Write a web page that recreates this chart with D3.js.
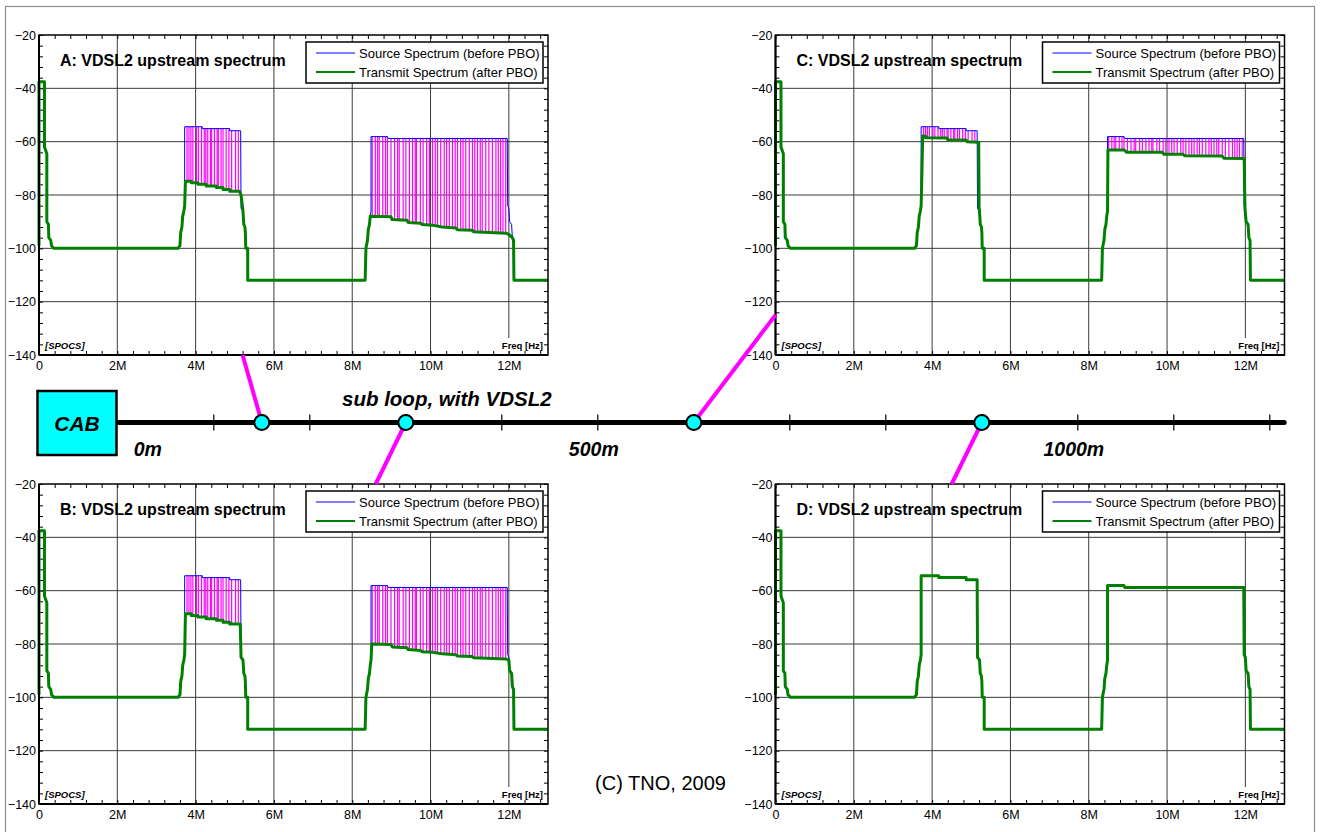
<!DOCTYPE html>
<html><head><meta charset="utf-8">
<script src="https://cdn.jsdelivr.net/npm/d3@7"></script>
<style>
body{margin:0;background:#fff}
svg{display:block}
text{font-family:Arial,"Liberation Sans",Helvetica,sans-serif}
</style>
</head><body>
<svg id="chart" width="1320" height="832"></svg>
<script>
// ---------------- data ----------------
const xTickValues = [0, 2, 4, 6, 8, 10, 12];
const xTickLabels = ["0", "2M", "4M", "6M", "8M", "10M", "12M"];
const yTickValues = [-20, -40, -60, -80, -100, -120, -140];
const legendLabels = ["Source Spectrum (before PBO)", "Transmit Spectrum (after PBO)"];
const panelTitles = ["A: VDSL2 upstream spectrum", "B: VDSL2 upstream spectrum",
                     "C: VDSL2 upstream spectrum", "D: VDSL2 upstream spectrum"];
const nodeNames = ["A", "B", "C", "D"];
const nodeMeters = [150, 300, 600, 900];
const loopTickMeters = [100,200,300,400,500,600,700,800,900,1000,1100,1200];
const loopLabelMeters = [0, 500, 1000];
const loopLabelTexts = ["0m", "500m", "1000m"];

// shared mask edges  [freq MHz, dBm/Hz]
const edgeLeft = [[0,-99],[0,-37.5],[0.14,-37.5],[0.14,-62],[0.2,-64.5],[0.2,-90],[0.24,-91],[0.25,-96],
  [0.3,-97],[0.32,-99],[0.38,-100],[3.55,-100],[3.6,-99],[3.62,-94],[3.65,-92],[3.67,-88],[3.7,-86],[3.72,-84]];
const edgeMid = [[5.21,-86],[5.23,-91],[5.26,-92],[5.27,-94],[5.28,-100],[5.33,-100],[5.33,-112],
  [8.33,-112],[8.35,-100],[8.39,-97],[8.41,-93],[8.44,-91]];
const edgeRight = [[12.09,-96],[12.12,-97],[12.13,-112],[13,-112]];

// source spectrum bands (before PBO)
const sourceBand1 = [[3.72,-54.4],[4.17,-54.4],[4.17,-55.1],[4.87,-55.1],[4.87,-55.9],[5.15,-55.9],[5.16,-85]];
const sourceBand2 = [[8.46,-88],[8.48,-86],[8.48,-58.1],[8.9,-58.1],[8.92,-58.8],[11.96,-58.8],
  [11.97,-84],[12.0,-85],[12.02,-90],[12.07,-91]];

// transmit spectrum bands (after PBO) per panel
const transmitBand1A = [[3.74,-74.8],[3.89,-74.8],[3.89,-75.4],[4.06,-75.4],[4.06,-76],[4.27,-76],[4.27,-76.6],
  [4.53,-76.6],[4.53,-77.2],[4.7,-77.2],[4.7,-77.9],[4.87,-77.9],[4.87,-78.6],[5.12,-78.6],[5.16,-80]];
const transmitBand2A = [[8.46,-88],[8.99,-88.2],[9.02,-89.2],[9.4,-89.5],[9.43,-90.3],[9.75,-90.6],[9.78,-91.1],
  [10.05,-91.3],[10.3,-92],[10.65,-92.4],[10.68,-93],[11.07,-93.2],[11.1,-93.8],[11.92,-94.3],[12.0,-94.8]];
const transmitBand1B = [[3.74,-68.7],[3.89,-68.7],[3.89,-69.3],[4.06,-69.3],[4.06,-69.9],[4.27,-69.9],[4.27,-70.5],
  [4.53,-70.5],[4.53,-71.1],[4.7,-71.1],[4.7,-71.8],[4.87,-71.8],[4.87,-72.5],[5.14,-72.5],[5.16,-85]];
const transmitBand2B = [[8.46,-88],[8.48,-86],[8.5,-80],[8.99,-80.2],[9.02,-81.1],[9.4,-81.4],[9.43,-82.1],
  [9.75,-82.4],[9.78,-82.9],[10.05,-83.1],[10.3,-83.7],[10.65,-84],[10.68,-84.5],[11.07,-84.7],[11.1,-85.2],
  [11.92,-85.6],[12.0,-86],[12.02,-90],[12.07,-91]];
const transmitBand1C = [[3.76,-57.9],[3.83,-57.9],[3.83,-58.5],[4.38,-58.6],[4.4,-59.3],[4.87,-59.4],
  [4.89,-60],[5.19,-60.2],[5.2,-85]];
const transmitBand2C = [[8.46,-88],[8.48,-86],[8.49,-63.1],[8.91,-63.1],[8.97,-64],[9.88,-64],[9.92,-64.7],
  [10.41,-64.7],[10.45,-65.3],[11.41,-65.4],[11.45,-66.2],[11.97,-66.3],[11.99,-85],[12.02,-90],[12.07,-91]];
const transmitBand1D = sourceBand1;
const transmitBand2D = sourceBand2;

// tone frequencies where the PBO difference is drawn
const tonesBand1 = [3.78,3.83,3.88,3.93,4.02,4.07,4.15,4.22,4.26,4.31,4.38,4.41,4.48,4.55,4.58,4.65,4.70,
  4.78,4.85,4.92,5.02,5.09];
const tonesBand2 = [8.51,8.59,8.65,8.69,8.78,8.85,8.90,8.99,9.08,9.16,9.20,9.30,9.37,9.46,9.54,9.61,9.64,
  9.74,9.81,9.90,9.97,10.05,10.12,10.18,10.26,10.35,10.41,10.48,10.56,10.63,10.69,10.77,10.83,10.90,10.99,
  11.07,11.13,11.20,11.27,11.32,11.41,11.49,11.58,11.67,11.73,11.79,11.85,11.92];

// ---------------- drawing ----------------
const svg = d3.select("#chart");
svg.append("rect").attr("x",5.5).attr("y",6.5).attr("width",1309).attr("height",832)
  .attr("fill","none").attr("stroke","#8c8c8c").attr("stroke-width",1.2);

const W = 509, H = 320;
const panelPos = [[39,35],[39,484],[775.5,35],[775.5,484]];
const sourceCurve = [].concat(edgeLeft, sourceBand1, edgeMid, sourceBand2, edgeRight);
const transmitCurves = [
  [].concat(edgeLeft, transmitBand1A, edgeMid, transmitBand2A, edgeRight),
  [].concat(edgeLeft, transmitBand1B, edgeMid, transmitBand2B, edgeRight),
  [].concat(edgeLeft, transmitBand1C, edgeMid, transmitBand2C, edgeRight),
  [].concat(edgeLeft, transmitBand1D, edgeMid, transmitBand2D, edgeRight)
];
const tones = tonesBand1.concat(tonesBand2);

function valueAt(pts, f) {
  for (let i = 0; i < pts.length - 1; i++) {
    const a = pts[i], b = pts[i+1];
    if (b[0] > a[0] && f >= a[0] && f <= b[0]) return a[1] + (b[1]-a[1])*(f-a[0])/(b[0]-a[0]);
  }
  return null;
}

const x = d3.scaleLinear().domain([0,13]).range([0,W]);
const y = d3.scaleLinear().domain([-140,-20]).range([H,0]);
const line = d3.line().x(d=>x(d[0])).y(d=>y(d[1]));
const scales = [];

panelTitles.forEach((title, i) => {
  const [px, py] = panelPos[i];
  const g = svg.append("g").attr("transform",`translate(${px},${py})`);
  scales.push({px, py});

  // grid
  g.append("g").selectAll("line").data(xTickValues.filter(v=>v>0)).join("line")
    .attr("x1",d=>x(d)).attr("x2",d=>x(d)).attr("y1",0).attr("y2",H)
    .attr("stroke","#3a3a3a").attr("stroke-width",1);
  g.append("g").selectAll("line").data(yTickValues.filter(v=>v>-140 && v<-20)).join("line")
    .attr("y1",d=>y(d)).attr("y2",d=>y(d)).attr("x1",0).attr("x2",W)
    .attr("stroke","#3a3a3a").attr("stroke-width",1);

  // minor ticks (inside)
  const minorY = d3.range(-140,-19,4), minorX = d3.range(0,13.01,0.4);
  g.append("g").call(d3.axisLeft(y).tickValues(minorY).tickSize(-4).tickFormat(""))
    .call(s=>s.select(".domain").remove());
  g.append("g").attr("transform",`translate(${W},0)`)
    .call(d3.axisRight(y).tickValues(minorY).tickSize(-4).tickFormat(""))
    .call(s=>s.select(".domain").remove());
  g.append("g").call(d3.axisTop(x).tickValues(minorX).tickSize(-4).tickFormat(""))
    .call(s=>s.select(".domain").remove());
  g.append("g").attr("transform",`translate(0,${H})`)
    .call(d3.axisBottom(x).tickValues(minorX).tickSize(-4).tickFormat(""))
    .call(s=>s.select(".domain").remove());

  // tick labels
  g.append("g").call(d3.axisLeft(y).tickValues(yTickValues).tickSize(0).tickPadding(3))
    .call(s=>s.select(".domain").remove())
    .call(s=>s.selectAll("text").attr("font-size",12.5).attr("fill","#000").attr("font-family","Arial, Liberation Sans, sans-serif"));
  g.append("g").attr("transform",`translate(0,${H})`)
    .call(d3.axisBottom(x).tickValues(xTickValues).tickSize(0).tickPadding(6)
      .tickFormat((d,k)=>xTickLabels[k]))
    .call(s=>s.select(".domain").remove())
    .call(s=>s.selectAll("text").attr("font-size",12.5).attr("fill","#000").attr("font-family","Arial, Liberation Sans, sans-serif"));

  // PBO difference lines
  const tc = transmitCurves[i];
  const diffs = tones.map(f => [f, valueAt(sourceCurve,f), valueAt(tc,f)])
    .filter(d => d[1] !== null && d[2] !== null && d[1] - d[2] > 0.4);
  g.append("g").selectAll("line").data(diffs).join("line")
    .attr("x1",d=>x(d[0])).attr("x2",d=>x(d[0])).attr("y1",d=>y(d[1])).attr("y2",d=>y(d[2]))
    .attr("stroke","#ff00ff").attr("stroke-width",1.2);

  // curves
  g.append("path").attr("d",line(sourceCurve)).attr("fill","none").attr("stroke","#0000ff").attr("stroke-width",1);
  g.append("path").attr("d",line(tc)).attr("fill","none").attr("stroke","#008000").attr("stroke-width",3)
    .attr("stroke-linejoin","round");

  // frame
  g.append("rect").attr("width",W).attr("height",H).attr("fill","none").attr("stroke","#000").attr("stroke-width",1.5);
  g.append("line").attr("x1",0).attr("x2",0).attr("y1",0).attr("y2",H).attr("stroke","#000").attr("stroke-width",2);
  g.append("line").attr("x1",0).attr("x2",W).attr("y1",H).attr("y2",H).attr("stroke","#000").attr("stroke-width",2);

  // title
  g.append("text").attr("x",21).attr("y",31).attr("font-size",16).attr("font-weight","bold").text(title);

  // legend
  const lg = g.append("g").attr("transform","translate(267,7)");
  lg.append("rect").attr("width",237).attr("height",41).attr("fill","#fff").attr("stroke","#000").attr("stroke-width",1.5);
  const legColors = ["#0000ff","#008000"], legWidths = [1.2,2];
  legendLabels.forEach((lab,k)=>{
    const yy = 11 + k*19;
    lg.append("line").attr("x1",10).attr("x2",49).attr("y1",yy).attr("y2",yy)
      .attr("stroke",legColors[k]).attr("stroke-width",legWidths[k]);
    lg.append("text").attr("x",53).attr("y",yy+4.5).attr("font-size",13).text(lab);
  });

  // corner labels
  g.append("text").attr("x",6).attr("y",H-6).attr("font-size",9.5).attr("font-weight","bold")
    .attr("font-style","italic").text("[SPOCS]");
  g.append("rect").attr("x",W-46).attr("y",H-17).attr("width",42).attr("height",13).attr("fill","#fff");
  g.append("text").attr("x",W-5).attr("y",H-6).attr("font-size",9.5).attr("font-weight","bold")
    .attr("text-anchor","end").text("Freq [Hz]");
});

// ---------------- loop ----------------
const loopX = d3.scaleLinear().domain([0,1200]).range([117.8,1269.8]);
const loopY = 422.5;
svg.append("line").attr("x1",loopX(0)).attr("x2",loopX(1215)).attr("y1",loopY).attr("y2",loopY)
  .attr("stroke","#000").attr("stroke-width",5).attr("stroke-linecap","round");
svg.append("g").selectAll("line").data(loopTickMeters).join("line")
  .attr("x1",d=>loopX(d)).attr("x2",d=>loopX(d)).attr("y1",loopY-8).attr("y2",loopY+8)
  .attr("stroke","#000").attr("stroke-width",1.2);

// connectors from nodes to panels
const connectorEnds = [
  [scales[0].px + x(5.2), scales[0].py + H],
  [scales[1].px + x(8.6), scales[1].py],
  [scales[2].px, scales[2].py + y(-125)],
  [scales[3].px + x(4.5), scales[3].py]
];
svg.append("g").selectAll("line").data(nodeMeters).join("line")
  .attr("x1",d=>loopX(d)).attr("y1",loopY)
  .attr("x2",(d,k)=>connectorEnds[k][0]).attr("y2",(d,k)=>connectorEnds[k][1])
  .attr("stroke","#ff00ff").attr("stroke-width",4);
svg.append("g").selectAll("circle").data(nodeMeters).join("circle")
  .attr("cx",d=>loopX(d)).attr("cy",loopY).attr("r",7.5)
  .attr("fill","#00ffff").attr("stroke","#000").attr("stroke-width",2);

// cabinet
svg.append("rect").attr("x",37.5).attr("y",391).attr("width",79).attr("height",64)
  .attr("fill","#00ffff").attr("stroke","#000").attr("stroke-width",2.5);
svg.append("text").attr("x",77).attr("y",430.5).attr("text-anchor","middle").attr("font-size",21)
  .attr("font-weight","bold").attr("font-style","italic").text("CAB");

svg.append("text").attr("x",342).attr("y",406).attr("font-size",20.5).attr("font-weight","bold")
  .attr("font-style","italic").text("sub loop, with VDSL2");
svg.append("g").selectAll("text").data(loopLabelMeters).join("text")
  .attr("x",(d)=>loopX(d) + (d===0 ? 30 : -4)).attr("y",456).attr("text-anchor","middle")
  .attr("font-size",19.5).attr("font-weight","bold").attr("font-style","italic")
  .text((d,k)=>loopLabelTexts[k]);

svg.append("text").attr("x",660.5).attr("y",790).attr("text-anchor","middle").attr("font-size",20)
  .text("(C) TNO, 2009");
</script>
</body></html>
